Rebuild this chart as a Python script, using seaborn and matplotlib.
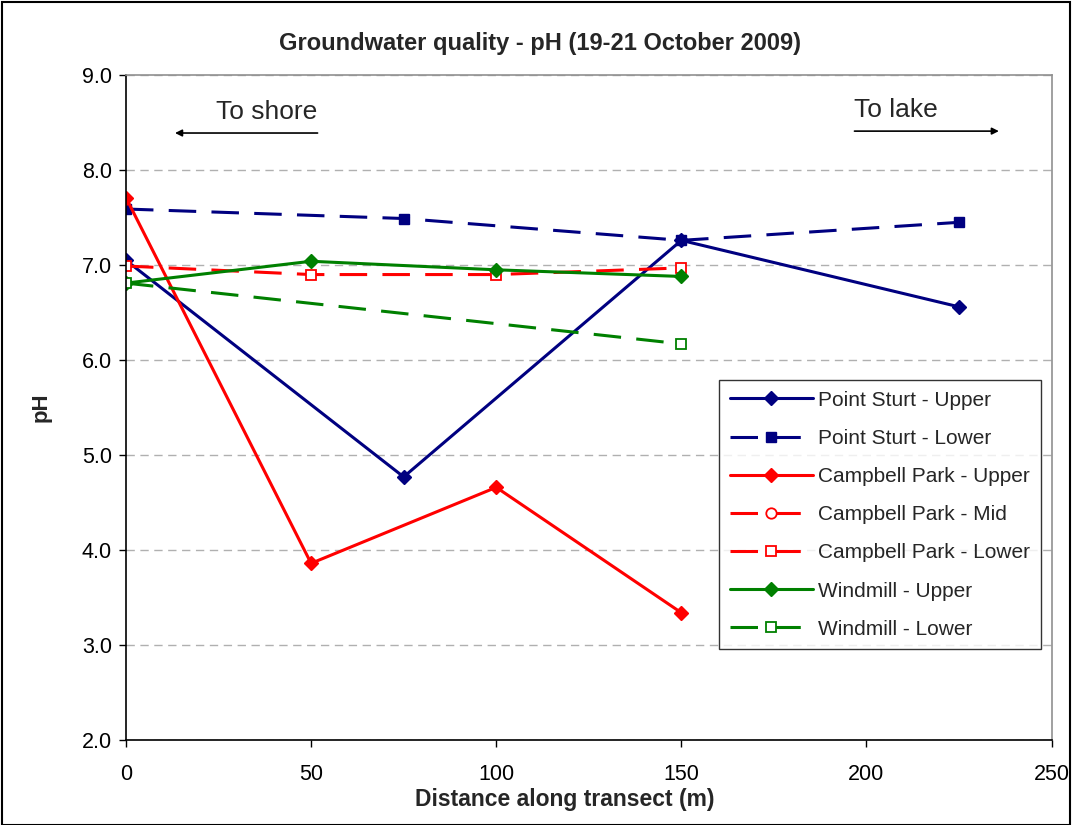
import numpy as np
import pandas as pd
import seaborn as sns
import matplotlib.pyplot as plt
from matplotlib.lines import Line2D
from matplotlib.patches import Rectangle

# values
ps_upper_x = [0, 75, 150, 225]
ps_upper_y = [7.05, 4.77, 7.26, 6.56]
ps_lower_x = [0, 75, 150, 225]
ps_lower_y = [7.59, 7.49, 7.26, 7.45]
cp_upper_x = [0, 50, 100, 150]
cp_upper_y = [7.71, 3.86, 4.66, 3.34]
cp_mid_x = []
cp_mid_y = []
cp_lower_x = [0, 50, 100, 150]
cp_lower_y = [6.99, 6.90, 6.90, 6.97]
wm_upper_x = [0, 50, 100, 150]
wm_upper_y = [6.81, 7.04, 6.95, 6.88]
wm_lower_x = [0, 150]
wm_lower_y = [6.81, 6.17]

NAVY = "#000080"
RED = "#FF0000"
GREEN = "#008000"

series = [
    ("Point Sturt - Upper", ps_upper_x, ps_upper_y, NAVY, "-", "D", True),
    ("Point Sturt - Lower", ps_lower_x, ps_lower_y, NAVY, "--", "s", True),
    ("Campbell Park - Upper", cp_upper_x, cp_upper_y, RED, "-", "D", True),
    ("Campbell Park - Mid", cp_mid_x, cp_mid_y, RED, "--", "o", False),
    ("Campbell Park - Lower", cp_lower_x, cp_lower_y, RED, "--", "s", False),
    ("Windmill - Upper", wm_upper_x, wm_upper_y, GREEN, "-", "D", True),
    ("Windmill - Lower", wm_lower_x, wm_lower_y, GREEN, "--", "s", False),
]

sns.set_style("white")
plt.rcParams["font.family"] = ["Liberation Sans", "DejaVu Sans"]

fig = plt.figure(figsize=(10.72, 8.25), dpi=100)
ax = fig.add_axes([0.1175, 0.103, 0.8635, 0.806])

handles = []
for name, xs, ys, col, ls, mk, filled in series:
    kw = dict(color=col, lw=2.2, marker=mk,
              markersize=7 if mk == "D" else 7.5,
              markerfacecolor=col if filled else "white",
              markeredgecolor=col, markeredgewidth=1.3 if not filled else 1)
    if ls == "--":
        kw["dashes"] = (9, 5)
    if len(xs):
        df = pd.DataFrame({"x": xs, "y": ys})
        sns.lineplot(data=df, x="x", y="y", ax=ax, sort=False, **kw)
    handles.append(Line2D([], [], label=name, **kw))

ax.set_xlim(0, 250)
ax.set_ylim(2.0, 9.0)
ax.set_xticks(np.arange(0, 251, 50))
ax.set_yticks(np.arange(2.0, 9.01, 1.0))
ax.set_yticklabels([f"{v:.1f}" for v in np.arange(2.0, 9.01, 1.0)])
ax.tick_params(axis="both", labelsize=15.5, direction="out", length=5, width=1,
               colors="black", left=True, bottom=True)
ax.tick_params(axis="x", pad=12)
ax.tick_params(axis="y", pad=5)
ax.yaxis.grid(True, color="#b0b0b0", linestyle=(0, (6, 4)), lw=1)
ax.xaxis.grid(False)
ax.set_axisbelow(True)
for s in ["left", "bottom"]:
    ax.spines[s].set_color("black")
    ax.spines[s].set_linewidth(1.2)
for s in ["top", "right"]:
    ax.spines[s].set_color("#909090")
    ax.spines[s].set_linewidth(1.2)

ax.set_xlabel("Distance along transect (m)", fontsize=16.5, fontweight="bold", labelpad=1)
ax.xaxis.set_label_coords(0.474, -0.072)
ax.set_ylabel("pH", fontsize=16, fontweight="bold", labelpad=22)
fig.text(0.504, 0.947, "Groundwater quality - pH (19-21 October 2009)", fontsize=17,
         fontweight="bold", ha="center", va="center")

# direction annotations
ax.text(38, 8.61, "To shore", fontsize=19, ha="center", va="center")
ax.annotate("", xy=(12.5, 8.39), xytext=(52.5, 8.39),
            arrowprops=dict(arrowstyle="-|>", color="black", lw=1.2,
                            mutation_scale=10))
ax.text(196.5, 8.63, "To lake", fontsize=19, ha="left", va="center")
ax.annotate("", xy=(236.5, 8.41), xytext=(196, 8.41),
            arrowprops=dict(arrowstyle="-|>", color="black", lw=1.2,
                            mutation_scale=10))

leg = ax.legend(handles=handles, loc="upper left", bbox_to_anchor=(0.641, 0.541),
                fontsize=15, frameon=True, fancybox=False, edgecolor="black",
                handlelength=4.0, labelspacing=0.92, borderpad=0.5,
                handletextpad=0.25, borderaxespad=0)
leg.get_frame().set_linewidth(1)

fig.patches.append(Rectangle((0.002, 0.0), 0.996, 0.997, transform=fig.transFigure,
                             fill=False, edgecolor="black", lw=1.5))

fig.savefig("out.png", dpi=100)
